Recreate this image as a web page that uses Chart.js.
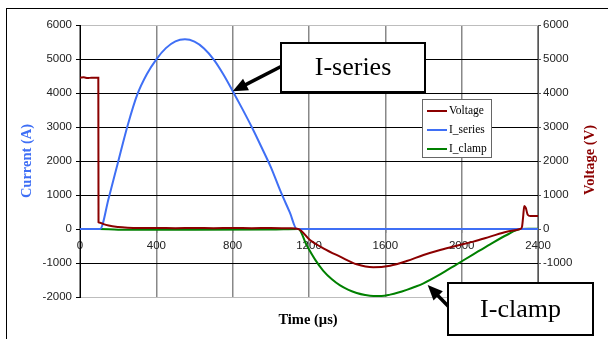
<!DOCTYPE html>
<html>
<head>
<meta charset="utf-8">
<script src="https://cdn.jsdelivr.net/npm/chart.js@4.4.1/dist/chart.umd.min.js"></script>
<style>
  html, body { margin: 0; padding: 0; background: #fff; }
</style>
</head>
<body>
<canvas id="myChart" width="608" height="339"></canvas>
<script>
// time axis (µs) and tick labels
const timeTicks = [0, 400, 800, 1200, 1600, 2000, 2400];
const currentTicks = [-2000, -1000, 0, 1000, 2000, 3000, 4000, 5000, 6000];

// Voltage (V), right axis
const voltTime = [0, 20, 40, 60, 80, 96, 97, 105, 120, 150, 200, 250, 300, 400, 500, 600, 700, 800, 900, 1000, 1100, 1144,
  1205, 1275, 1363, 1450, 1537, 1625, 1712, 1800, 1887, 1974, 2061, 2149, 2236, 2306, 2316, 2322, 2328, 2336, 2346, 2360, 2400];
const voltValue = [4450, 4460, 4440, 4450, 4450, 4450, 200, 185, 150, 100, 60, 40, 30, 30, 25, 30, 25, 30, 25, 30, 20, 0,
  -324, -568, -813, -1039, -1127, -1078, -941, -764, -617, -490, -372, -225, -78, 0, 60, 350, 680, 620, 420, 380, 380];

// I_series (A)
const seriesTime = [0, 50, 105, 150, 200, 250, 300, 350, 400, 450, 500, 550, 600, 650, 700, 750, 800, 850, 900, 950, 1000,
  1050, 1100, 1136, 1400, 1800, 2200, 2400];
const seriesValue = [0, 0, 0, 900, 1980, 3050, 3950, 4550, 4990, 5320, 5520, 5580, 5510, 5310, 4990, 4560, 4060, 3540, 3000,
  2420, 1820, 1120, 480, 0, 0, 0, 0, 0];

// I_clamp (A)
const clampTime = [0, 100, 200, 600, 1000, 1144, 1188, 1232, 1275, 1320, 1363, 1407, 1450, 1494, 1537, 1580, 1625, 1668,
  1712, 1756, 1800, 1887, 1974, 2061, 2149, 2236, 2306, 2350, 2400];
const clampValue = [0, 0, -20, -20, -15, 0, -480, -900, -1230, -1480, -1660, -1790, -1880, -1940, -1970, -1970, -1930, -1870,
  -1790, -1700, -1597, -1333, -1039, -745, -450, -176, 0, 10, 10];

const toPoints = (xs, ys) => xs.map((x, i) => ({ x: x, y: ys[i] }));

const overlay = {
  id: "overlay",
  afterDraw(chart) {
    const ctx = chart.ctx;
    const xs = chart.scales.x;
    const ys = chart.scales.y;
    ctx.save();

    // outer frame
    ctx.strokeStyle = "#000";
    ctx.lineWidth = 1;
    ctx.beginPath();
    ctx.moveTo(6, 8.5); ctx.lineTo(608, 8.5);
    ctx.moveTo(6.5, 8); ctx.lineTo(6.5, 339);
    ctx.stroke();

    // axis titles
    ctx.font = "bold 14.5px 'Liberation Serif'";
    ctx.textAlign = "center";
    ctx.textBaseline = "middle";
    ctx.fillStyle = "#000";
    ctx.fillText("Time (µs)", 308, 320);
    ctx.save();
    ctx.translate(590, 160);
    ctx.rotate(-Math.PI / 2);
    ctx.fillStyle = "#8B0000";
    ctx.fillText("Voltage (V)", 0, 0);
    ctx.restore();

    // legend
    ctx.fillStyle = "#fff";
    ctx.fillRect(422.5, 99.5, 69, 58);
    ctx.strokeStyle = "#666";
    ctx.strokeRect(422.5, 99.5, 69, 58);
    ctx.font = "11.5px 'Liberation Serif'";
    ctx.textAlign = "left";
    chart.data.datasets.forEach((ds, i) => {
      const y = 111 + i * 19;
      ctx.strokeStyle = ds.borderColor;
      ctx.lineWidth = 2;
      ctx.beginPath(); ctx.moveTo(427, y); ctx.lineTo(447, y); ctx.stroke();
      ctx.fillStyle = "#000";
      ctx.fillText(ds.label, 449, y);
    });

    // callouts
    const arrow = (x1, y1, x2, y2) => {
      const a = Math.atan2(y2 - y1, x2 - x1);
      const len = 15, w = 6.5;
      ctx.strokeStyle = "#000";
      ctx.fillStyle = "#000";
      ctx.lineWidth = 3.5;
      ctx.beginPath();
      ctx.moveTo(x1, y1);
      ctx.lineTo(x2 - Math.cos(a) * len * 0.8, y2 - Math.sin(a) * len * 0.8);
      ctx.stroke();
      ctx.beginPath();
      ctx.moveTo(x2, y2);
      ctx.lineTo(x2 - len * Math.cos(a) + w * Math.sin(a), y2 - len * Math.sin(a) - w * Math.cos(a));
      ctx.lineTo(x2 - len * Math.cos(a) - w * Math.sin(a), y2 - len * Math.sin(a) + w * Math.cos(a));
      ctx.closePath();
      ctx.fill();
    };
    const box = (x, y, w, h, text) => {
      ctx.fillStyle = "#fff";
      ctx.fillRect(x, y, w, h);
      ctx.strokeStyle = "#000";
      ctx.lineWidth = 2;
      ctx.strokeRect(x, y, w, h);
      ctx.fillStyle = "#000";
      ctx.font = "26px 'Liberation Serif'";
      ctx.textAlign = "center";
      ctx.fillText(text, x + w / 2, y + h / 2 + 1);
    };
    arrow(282, 66, xs.getPixelForValue(800), ys.getPixelForValue(4050));
    box(281, 43, 144, 49, "I-series");
    arrow(449, 307, xs.getPixelForValue(1822), ys.getPixelForValue(-1650));
    box(448, 283, 145, 52, "I-clamp");

    ctx.restore();
  }
};

const tickFont = { family: "'Liberation Sans'", size: 11.5 };
const plainLabel = (v) => String(v);

const config = {
  type: "line",
  data: {
    datasets: [
      {
        label: "Voltage",
        data: toPoints(voltTime, voltValue),
        borderColor: "#8B0000",
        yAxisID: "y1",
      },
      {
        label: "I_series",
        data: toPoints(seriesTime, seriesValue),
        borderColor: "#3F6FF5",
        yAxisID: "y",
      },
      {
        label: "I_clamp",
        data: toPoints(clampTime, clampValue),
        borderColor: "#008000",
        yAxisID: "y",
      },
    ],
  },
  options: {
    responsive: false,
    animation: false,
    elements: {
      point: { radius: 0 },
      line: { borderWidth: 2, cubicInterpolationMode: "monotone", fill: false },
    },
    layout: { padding: { top: 25, bottom: 42, left: 0, right: 0 } },
    plugins: { legend: { display: false }, tooltip: { enabled: false } },
    scales: {
      x: {
        type: "linear",
        position: { y: 0 },
        min: 0,
        max: 2400,
        afterBuildTicks: (axis) => { axis.ticks = timeTicks.map((v) => ({ value: v })); },
        grid: { color: "#888", lineWidth: 1.5, tickLength: 4 },
        border: { display: false },
        ticks: { font: tickFont, color: "#222", padding: 6, maxRotation: 0, autoSkip: false, callback: plainLabel },
      },
      y: {
        position: "left",
        min: -2000,
        max: 6000,
        afterBuildTicks: (axis) => { axis.ticks = currentTicks.map((v) => ({ value: v })); },
        afterFit: (axis) => { axis.width = 80; },
        grid: {
          color: (c) => (c.tick && (c.tick.value === 6000 || c.tick.value === -2000)) ? "#bdbdbd" : "#000",
          tickColor: "#000",
          tickLength: 4,
        },
        border: { color: "#000" },
        ticks: { font: tickFont, color: "#222", padding: 4, callback: plainLabel },
        title: {
          display: true,
          text: "Current (A)",
          color: "#3F6FF5",
          font: { family: "'Liberation Serif'", size: 14.5, weight: "bold" },
          padding: { top: 19, bottom: 0 },
        },
      },
      y1: {
        position: "right",
        min: -2000,
        max: 6000,
        afterBuildTicks: (axis) => { axis.ticks = currentTicks.map((v) => ({ value: v })); },
        afterFit: (axis) => { axis.width = 70; },
        grid: { drawOnChartArea: false, tickLength: 3, color: "#555" },
        border: { color: "#555" },
        ticks: { font: tickFont, color: "#222", padding: 2, callback: plainLabel },
      },
    },
  },
  plugins: [overlay],
};

new Chart(document.getElementById("myChart"), config);
</script>
</body>
</html>
